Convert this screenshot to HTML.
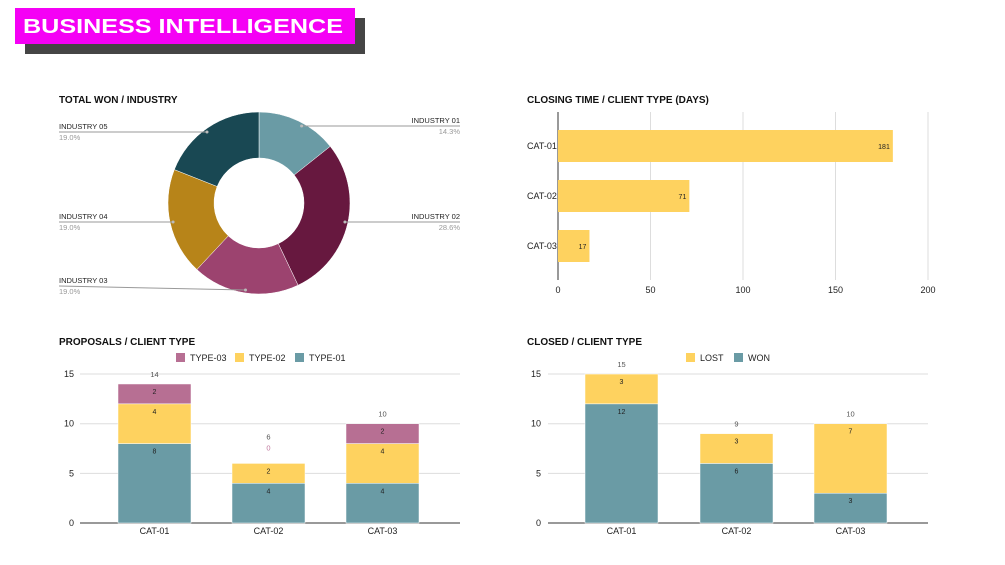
<!DOCTYPE html>
<html><head><meta charset="utf-8"><style>
body{margin:0;background:#fff;width:1005px;height:565px;overflow:hidden;font-family:"Liberation Sans",sans-serif}
svg{display:block}
</style></head><body>
<svg id="s" width="1005" height="565" xmlns="http://www.w3.org/2000/svg">
<rect x="25" y="18" width="340" height="36" fill="#454545"/>
<rect x="15" y="8" width="340" height="36" fill="#f500f5"/>
<text x="23" y="33" fill="#fff" font-size="20" font-weight="900" font-family="Liberation Sans" textLength="320" lengthAdjust="spacingAndGlyphs">BUSINESS INTELLIGENCE</text>
<g font-size="10" font-weight="bold" fill="#111">
<text x="59" y="103">TOTAL WON / INDUSTRY</text>
<text x="527" y="103">CLOSING TIME / CLIENT TYPE (DAYS)</text>
<text x="59" y="345">PROPOSALS / CLIENT TYPE</text>
<text x="527" y="345">CLOSED / CLIENT TYPE</text>
</g>
<g id="donut"></g><g id="hbar"></g><g id="prop"></g><g id="closed"></g>
</svg>
<script>
const NS="http://www.w3.org/2000/svg";
function el(p,t,a,txt){const e=document.createElementNS(NS,t);for(const k in a)e.setAttribute(k,a[k]);if(txt!==undefined)e.textContent=txt;p.appendChild(e);return e;}

// Donut data
const industries=["INDUSTRY 01","INDUSTRY 02","INDUSTRY 03","INDUSTRY 04","INDUSTRY 05"];
const shares=[14.3,28.6,19.0,19.0,19.0];
const donutColors=["#6a9ba5","#67183f","#9c436f","#b78419","#194853"];
const labelPos=[[460,121,"end"],[460,217,"end"],[59,281,"start"],[59,217,"start"],[59,127,"start"]];

// Horizontal bar data
const hCats=["CAT-01","CAT-02","CAT-03"];
const hVals=[181,71,17];
const hTicks=[0,50,100,150,200];

// Proposals data
const pCats=["CAT-01","CAT-02","CAT-03"];
const type01=[8,4,4];
const type02=[4,2,4];
const type03=[2,0,2];

// Closed data
const cCats=["CAT-01","CAT-02","CAT-03"];
const won=[12,6,3];
const lost=[3,3,7];
const vTicks=[0,5,10,15];

// Donut
(function(){
 const g=document.getElementById('donut');const cx=259,cy=203,R=91,r=45;
 const tot=shares.reduce((a,b)=>a+b,0);let a0=-Math.PI/2;
 shares.forEach((v,i)=>{
  const a1=a0+v/tot*2*Math.PI;const L=(a1-a0)>Math.PI?1:0;
  const p=(rad,a)=>[cx+rad*Math.cos(a),cy+rad*Math.sin(a)];
  const [x0,y0]=p(R,a0),[x1,y1]=p(R,a1),[x2,y2]=p(r,a1),[x3,y3]=p(r,a0);
  const s=el(g,'path',{d:`M${x0},${y0}A${R},${R} 0 ${L} 1 ${x1},${y1}L${x2},${y2}A${r},${r} 0 ${L} 0 ${x3},${y3}Z`,fill:donutColors[i],stroke:'#fff','stroke-width':0.5});
  
  
  const am=(a0+a1)/2;
  const lp=labelPos[i];const ly=lp[1]+5;
  let mx,my;const dy=ly-cy,rr=R-3;
  if(Math.abs(dy)<rr-10){const dx=Math.sqrt(rr*rr-dy*dy);mx=lp[2]=='end'?cx+dx:cx-dx;my=ly;}
  else{[mx,my]=p(rr,am);}
  el(g,'path',{d:`M${mx},${my}L${lp[0]},${ly}`,stroke:'#999',fill:'none','stroke-width':1});
  el(g,'circle',{cx:mx,cy:my,r:1.5,fill:'#bbb'});
  const t=el(g,'text',{x:lp[0],y:lp[1]+2,'font-size':7.5,fill:'#222','text-anchor':lp[2]},industries[i]);
  
  
  el(g,'text',{x:lp[0],y:lp[1]+13,'font-size':7.5,fill:'#999','text-anchor':lp[2]},v.toFixed(1)+'%');
  a0=a1;
 });
})();

// Horizontal bars
(function(){
 const g=document.getElementById('hbar');const x=v=>558+v*1.85;const yc=[146,196,246];
 hTicks.forEach(t=>{el(g,'line',{x1:x(t),x2:x(t),y1:112,y2:280,stroke:t==0?'#333':'#ddd'});
  el(g,'text',{x:x(t),y:293,'font-size':9,'text-anchor':'middle',fill:'#222'},t);});
 hCats.forEach((c,i)=>{
  el(g,'text',{x:527,y:yc[i]+3,'font-size':9,fill:'#222'},c);
  const b=el(g,'rect',{x:x(0),y:yc[i]-16,width:x(hVals[i])-x(0),height:32,fill:'#fed25f'});
  
  
  el(g,'text',{x:x(hVals[i])-3,y:yc[i]+3,'font-size':7,'text-anchor':'end',fill:'#222'},hVals[i]);
 });
})();

function stacked(gid,cats,series,colors,names,labelX,gx0,gx1,bars,legend,extra){
 const g=document.getElementById(gid);const y=v=>523-v*9.93;
 vTicks.forEach(t=>{el(g,'line',{x1:gx0,x2:gx1,y1:y(t),y2:y(t),stroke:t==0?'#333':'#ddd'});
  el(g,'text',{x:labelX,y:y(t)+3,'font-size':9,'text-anchor':'end',fill:'#222'},t);});
 legend.forEach((L,i)=>{const s=el(g,'rect',{x:L[0],y:353,width:9,height:9,fill:L[2]});
  
  
  el(g,'text',{x:L[0]+14,y:361,'font-size':9,fill:'#222'},L[1]);});
 cats.forEach((c,i)=>{
  const bx=bars[i],w=73;let acc=0;
  series.forEach((ser,k)=>{const v=ser[i];
   if(v>0){const r=el(g,'rect',{x:bx,y:y(acc+v),width:w,height:y(acc)-y(acc+v),fill:colors[k],stroke:'#fff','stroke-width':0.5});
    
    
    el(g,'text',{x:bx+w/2,y:y(acc+v)+10,'font-size':7,'text-anchor':'middle',fill:'#222'},v);}
   else el(g,'text',{x:bx+w/2,y:y(acc)-13,'font-size':7.5,'text-anchor':'middle',fill:'#c27ba0'},v);
   acc+=v;});
  el(g,'text',{x:bx+w/2,y:y(acc)-(extra&&series.some(s=>s[i]==0)?24:7),'font-size':7.5,'text-anchor':'middle',fill:'#555'},acc);
  el(g,'text',{x:bx+w/2,y:534,'font-size':9,'text-anchor':'middle',fill:'#222'},c);
 });
}
stacked('prop',pCats,[type01,type02,type03],['#6a9ba5','#fed25f','#b76f93'],['type-01','type-02','type-03'],74,80,460,[118,232,346],[[176,'TYPE-03','#b76f93'],[235,'TYPE-02','#fed25f'],[295,'TYPE-01','#6a9ba5']],true);
stacked('closed',cCats,[won,lost],['#6a9ba5','#fed25f'],['won','lost'],541,548,928,[585,700,814],[[686,'LOST','#fed25f'],[734,'WON','#6a9ba5']],false);
</script>
</body></html>
